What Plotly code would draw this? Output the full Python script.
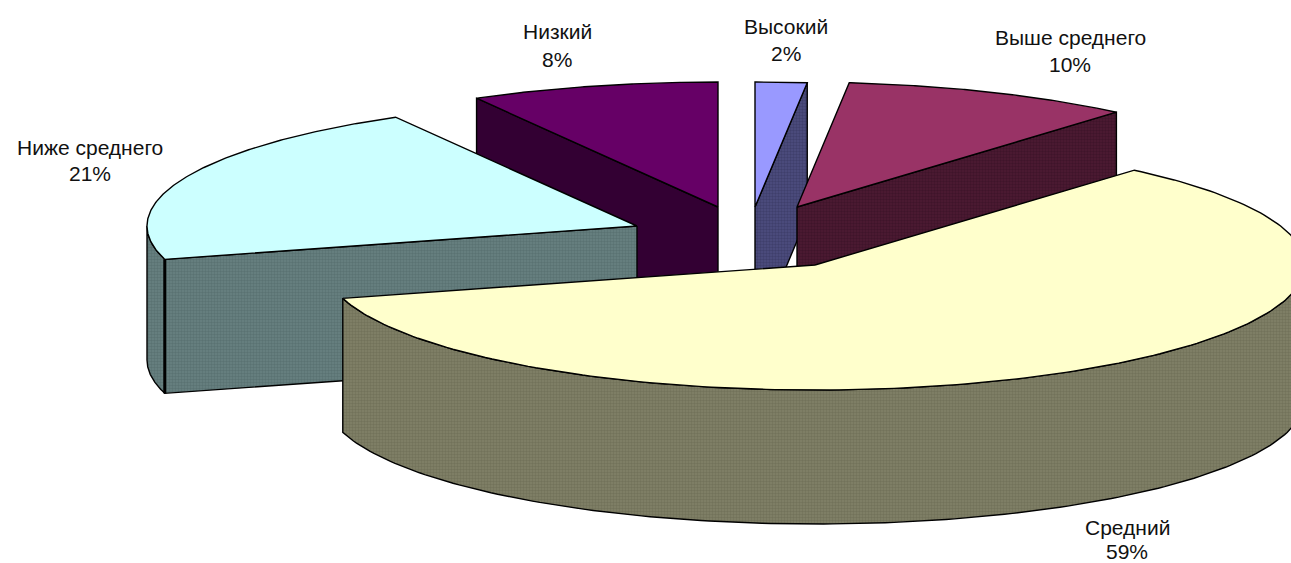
import numpy as np
import plotly.graph_objects as go

# data (clockwise from the top of the pie); labels show the rounded share
categories = ["Высокий", "Выше среднего", "Средний", "Ниже среднего", "Низкий"]
percents = [1.7, 9.6, 59.4, 21.1, 8.2]

# styles
top_colors = ["#9999FF", "#993366", "#FFFFCC", "#CCFFFF", "#660066"]
side_colors = ["#4D4D80", "#4D1A33", "#828268", "#688282", "#330033"]
side_dots = ["#3F3F6C", "#3F142A", "#72725A", "#5A7272", "#330033"]

# projection of the exploded 3-D pie
START_DEG = 0.0
RX, RY, DEPTH = 490.0, 125.0, 134.0
APEX = {"Высокий": (755, 207), "Выше среднего": (797, 207), "Средний": (815, 265),
        "Ниже среднего": (637, 226), "Низкий": (718, 207)}
DRAW_ORDER = ["Низкий", "Высокий", "Выше среднего", "Ниже среднего", "Средний"]
LABEL_POS = {"Высокий": (786, 26, 53), "Выше среднего": (1070, 37, 64), "Средний": (1127, 527, 551),
             "Ниже среднего": (90, 147, 173), "Низкий": (557, 31, 59)}

fig = go.Figure()


def poly(xs, ys, color, dots=None):
    pattern = None
    if dots is not None and dots != color:
        pattern = dict(shape=".", size=3, solidity=0.5, fgcolor=dots, bgcolor=color, fillmode="replace")
    fig.add_trace(go.Scatter(x=xs, y=ys, mode="lines", fill="toself", fillcolor=color,
                             fillpattern=pattern,
                             line=dict(color="#000000", width=1.4), hoverinfo="skip", showlegend=False))


def rim(apex, t):
    r = np.radians(t)
    return apex[0] + RX * np.sin(r), apex[1] - RY * np.cos(r)


def face(apex, t, color, dots):
    x, y = rim(apex, t)
    poly([apex[0], x, x, apex[0], apex[0]],
         [apex[1], y, y + DEPTH, apex[1] + DEPTH, apex[1]], color, dots)


spans = {}
angle = START_DEG
for name, p, tc, sc, sd in zip(categories, percents, top_colors, side_colors, side_dots):
    spans[name] = (angle, angle + p * 3.6, tc, sc, sd)
    angle += p * 3.6

for name in DRAW_ORDER:
    t1, t2, tc, sc, sd = spans[name]
    apex = APEX[name]
    # radial walls that face the viewer
    if np.sin(np.radians(t1)) < 0:
        face(apex, t1, sc, sd)
    if np.sin(np.radians(t2)) > 0:
        face(apex, t2, sc, sd)
    # outer wall, front half of the rim only
    lo, hi = max(t1, 90), min(t2, 270)
    if hi > lo:
        tt = np.linspace(lo, hi, 160)
        xs, ys = rim(apex, tt)
        poly(np.r_[xs, xs[::-1], xs[0]], np.r_[ys, ys[::-1] + DEPTH, ys[0]], sc, sd)
    # top surface
    tt = np.linspace(t1, t2, 200)
    xs, ys = rim(apex, tt)
    poly(np.r_[apex[0], xs, apex[0]], np.r_[apex[1], ys, apex[1]], tc)

# heavier corner line on the left edge of "Ниже среднего"
t1 = spans["Ниже среднего"][0]
x0, y0 = rim(APEX["Ниже среднего"], t1)
fig.add_trace(go.Scatter(x=[x0, x0], y=[y0, y0 + DEPTH], mode="lines",
                         line=dict(color="#000000", width=3), hoverinfo="skip", showlegend=False))

for name, p in zip(categories, percents):
    x, y1, y2 = LABEL_POS[name]
    for txt, y in ((name, y1), (f"{round(p)}%", y2)):
        fig.add_annotation(x=x, y=y, text=txt, showarrow=False, xanchor="center", yanchor="middle",
                           font=dict(family="Liberation Sans, Arial, sans-serif", size=21, color="#111111"))

fig.update_layout(width=1291, height=563, autosize=False, margin=dict(l=0, r=0, t=0, b=0),
                  paper_bgcolor="#FFFFFF", plot_bgcolor="#FFFFFF", showlegend=False,
                  xaxis=dict(range=[0, 1291], visible=False, fixedrange=True),
                  yaxis=dict(range=[563, 0], visible=False, fixedrange=True))
fig.write_html("out.html", config={"displayModeBar": False},
               post_script="document.body.style.margin='0';document.body.style.overflow='hidden';")
